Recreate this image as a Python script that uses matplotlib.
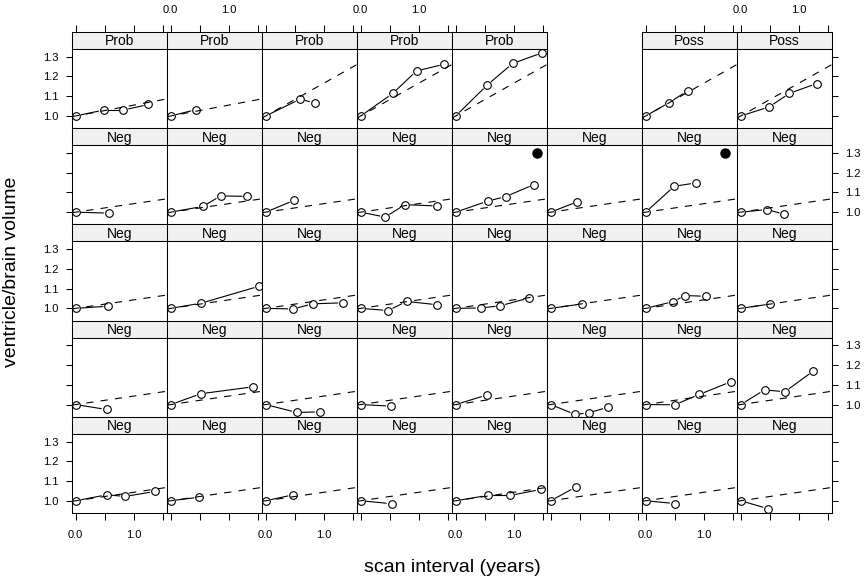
import numpy as np
import matplotlib
matplotlib.use("Agg")
import matplotlib.pyplot as plt

plt.rcParams['font.family'] = ['Liberation Sans', 'DejaVu Sans']

# 5 rows x 8 columns, read row by row from the top; None = empty slot
strip_labels = [
    "Prob", "Prob", "Prob", "Prob", "Prob", None, "Poss", "Poss",
    "Neg", "Neg", "Neg", "Neg", "Neg", "Neg", "Neg", "Neg",
    "Neg", "Neg", "Neg", "Neg", "Neg", "Neg", "Neg", "Neg",
    "Neg", "Neg", "Neg", "Neg", "Neg", "Neg", "Neg", "Neg",
    "Neg", "Neg", "Neg", "Neg", "Neg", "Neg", "Neg", "Neg",
]

scan_years = [
    [0, 0.48, 0.82, 1.25], [0, 0.435], [0, 0.59, 0.84], [0, 0.55, 0.96, 1.44],
    [0, 0.54, 0.98, 1.49], None, [0, 0.405, 0.72], [0, 0.49, 0.835, 1.305],
    [0, 0.57], [0, 0.55, 0.86, 1.32], [0, 0.49], [0, 0.42, 0.76, 1.32],
    [0, 0.55, 0.86, 1.35], [0, 0.46], [0, 0.49, 0.86], [0, 0.45, 0.75],
    [0, 0.56], [0, 0.52, 1.52], [0, 0.47, 0.81, 1.33], [0, 0.47, 0.79, 1.32],
    [0, 0.43, 0.77, 1.26], [0, 0.53], [0, 0.47, 0.675, 1.03], [0, 0.51],
    [0, 0.53], [0, 0.52, 1.42], [0, 0.53, 0.93], [0, 0.52],
    [0, 0.53], [0, 0.42, 0.65, 0.98], [0, 0.5, 0.92, 1.46], [0, 0.41, 0.76, 1.25],
    [0, 0.53, 0.85, 1.36], [0, 0.49], [0, 0.47], [0, 0.53],
    [0, 0.55, 0.94, 1.46], [0, 0.43], [0, 0.5], [0, 0.47],
]

volume_ratio = [
    [1.0, 1.03, 1.03, 1.058], [1.0, 1.032], [1.0, 1.085, 1.066], [1.0, 1.114, 1.228, 1.262],
    [1.0, 1.156, 1.266, 1.32], None, [1.0, 1.068, 1.127], [1.0, 1.046, 1.114, 1.164],
    [1.0, 0.995], [1.0, 1.029, 1.082, 1.08], [1.0, 1.06], [1.0, 0.975, 1.038, 1.031],
    [1.0, 1.056, 1.079, 1.14], [1.0, 1.053], [1.0, 1.131, 1.148], [1.0, 1.013, 0.99],
    [1.0, 1.011], [1.0, 1.026, 1.112], [1.0, 0.997, 1.023, 1.028], [1.0, 0.989, 1.035, 1.018],
    [1.0, 1.002, 1.013, 1.053], [1.0, 1.022], [1.0, 1.034, 1.065, 1.061], [1.0, 1.022],
    [1.0, 0.975], [1.0, 1.055, 1.09], [1.0, 0.96, 0.963], [1.0, 0.992],
    [1.0, 1.048], [1.0, 0.95, 0.958, 0.986], [1.0, 0.999, 1.051, 1.115], [1.0, 1.074, 1.065, 1.17],
    [1.0, 1.03, 1.022, 1.047], [1.0, 1.018], [1.0, 1.03], [1.0, 0.985],
    [1.0, 1.027, 1.027, 1.057], [1.0, 1.069], [1.0, 0.986], [1.0, 0.96],
]

# slope of the dashed reference line (intercept 1)
ref_slope = [0.055, 0.055, 0.166, 0.166, 0.166, None, 0.166, 0.166] + [0.043] * 32

# filled markers
flag_panel = [12, 14]
flag_x = [1.39, 1.37]
flag_y = [1.302, 1.302]

W, H = 865, 584
x_left, col_w = 72, 95
y_top, row_h, strip_h = 32, 96.2, 17
xlim = (-0.064, 1.57)
ylim = (0.938, 1.339)
gap = 5.5  # px left open around each point (lattice type="b")

fig = plt.figure(figsize=(W / 100, H / 100), dpi=100)


def gapped_segments(ax, xs, ys):
    # join points but stop short of each circle, like type="b"
    pts = ax.transData.transform(np.column_stack([xs, ys]))
    inv = ax.transData.inverted()
    for p, q in zip(pts[:-1], pts[1:]):
        d = q - p
        n = np.hypot(*d)
        if n <= 2 * gap + 1:
            continue
        u = d / n
        a, b = inv.transform([p + u * gap, q - u * gap])
        ax.plot([a[0], b[0]], [a[1], b[1]], color='black', lw=0.8)


for i, lab in enumerate(strip_labels):
    if lab is None:
        continue
    r, c = divmod(i, 8)
    left = x_left + c * col_w
    top = y_top + r * row_h

    sax = fig.add_axes([left / W, 1 - (top + strip_h) / H, col_w / W, strip_h / H])
    sax.set_facecolor('#f0f0f0')
    sax.set_xlim(*xlim)
    sax.set_ylim(0, 1)
    sax.text(0.5, 0.45, lab, transform=sax.transAxes, ha='center', va='center', fontsize=10)
    sax.set_yticks([])
    sax.set_xticks([0, 0.5, 1.0, 1.5])
    sax.set_xticklabels(['0.0', '', '1.0', ''])
    sax.tick_params(axis='x', bottom=False, labelbottom=False, top=(r == 0),
                    labeltop=(r == 0 and c % 2 == 1), length=5, pad=7, width=0.75, labelsize=8)
    for s in sax.spines.values():
        s.set_linewidth(0.75)

    ax = fig.add_axes([left / W, 1 - (top + row_h) / H, col_w / W, (row_h - strip_h) / H])
    ax.set_xlim(*xlim)
    ax.set_ylim(*ylim)
    b = ref_slope[i]
    ax.plot(xlim, [1 + b * xlim[0], 1 + b * xlim[1]], color='black', lw=0.8,
            linestyle=(0, (6.5, 6.5)))
    gapped_segments(ax, scan_years[i], volume_ratio[i])
    ax.plot(scan_years[i], volume_ratio[i], linestyle='none', marker='o',
            markersize=5.5, markerfacecolor='none', markeredgecolor='black', markeredgewidth=0.8)
    if i in flag_panel:
        k = flag_panel.index(i)
        ax.plot(flag_x[k], flag_y[k], 'o', color='black', markersize=6.5)

    ax.set_xticks([0, 0.5, 1.0, 1.5])
    ax.set_xticklabels(['0.0', '', '1.0', ''])
    ax.set_yticks([1.0, 1.1, 1.2, 1.3])
    ax.set_yticklabels(['1.0', '1.1', '1.2', '1.3'])
    ax.tick_params(axis='x', top=False, labeltop=False, bottom=(r == 4),
                   labelbottom=(r == 4 and c % 2 == 0), length=5, pad=7, width=0.75, labelsize=8)
    ax.tick_params(axis='y', left=(c == 0), labelleft=(c == 0 and r % 2 == 0),
                   right=(c == 7), labelright=(c == 7 and r % 2 == 1),
                   length=4.5, pad=5, width=0.75, labelsize=8)
    for s in ax.spines.values():
        s.set_linewidth(0.75)

fig.text(452 / W, 1 - 567 / H, 'scan interval (years)', ha='center', va='center', fontsize=14)
fig.text(12 / W, 1 - 272 / H, 'ventricle/brain volume', ha='center', va='center',
         rotation=90, fontsize=14)

fig.savefig('out.png', dpi=100)
